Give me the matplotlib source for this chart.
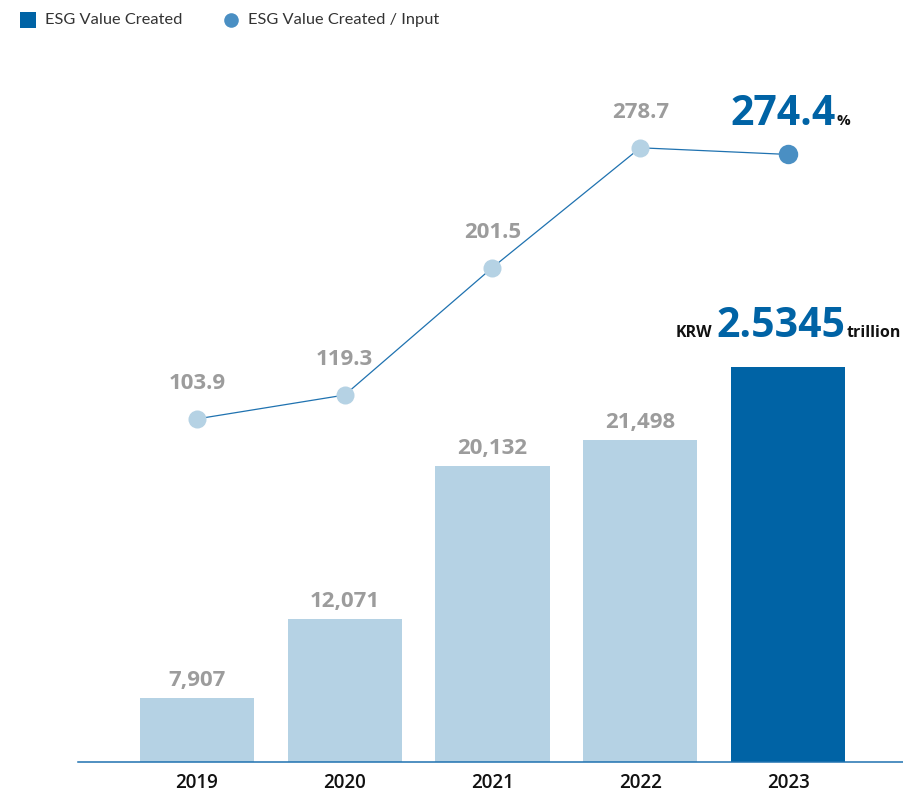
import matplotlib
matplotlib.use("Agg")
import matplotlib.pyplot as plt
from matplotlib.lines import Line2D
from matplotlib.patches import Rectangle

# ESG value created (KRW 100 million) and value created / input (%)
years = ["2019", "2020", "2021", "2022", "2023"]
value_created = [7907, 12071, 20132, 21498, 25345]
value_ratio = [103.9, 119.3, 201.5, 278.7, 274.4]

LIGHT = "#b5d2e4"
DARK = "#0063a5"
LINE = "#1f72b0"
MID = "#4a8fc3"
GRAY = "#9c9c9c"
BLACK = "#111111"

plt.rcParams['font.family'] = ['Open Sans', 'DejaVu Sans']

W, H = 904, 795
fig = plt.figure(figsize=(W / 100, H / 100), dpi=100)
left, right, bottom, top = 78, 904, 762, 80
ax = fig.add_axes([left / W, (H - bottom) / H, (right - left) / W, (bottom - top) / H])
ax2 = ax.twinx()

x = list(range(len(years)))
colors = [LIGHT] * (len(years) - 1) + [DARK]
ax.bar(x, value_created, width=0.772, color=colors, zorder=1)
ax.set_xlim(-0.805, 4.785)
ax.set_ylim(4555, 40462)
ax2.set_ylim(-117.3, 322.4)

# bar value labels (latest year gets a headline label instead)
for i, v in enumerate(value_created[:-1]):
    ax.annotate(f"{v:,}", xy=(i, v), xytext=(0, 8.6), textcoords="offset points",
                ha="center", va="baseline", fontsize=16, fontweight="bold", color=GRAY)

last = len(years) - 1
ax.annotate(f"{value_created[-1] / 10000:.4f}", xy=(last, value_created[-1]),
            xytext=(-5, 22), textcoords="offset points", ha="center", va="baseline",
            fontsize=29.5, fontweight="bold", color=DARK)
ax.annotate("KRW", xy=(last, value_created[-1]), xytext=(-54.5, 22), textcoords="offset points",
            ha="right", va="baseline", fontsize=11.5, fontweight="bold", color=BLACK)
ax.annotate("trillion", xy=(last, value_created[-1]), xytext=(42, 22), textcoords="offset points",
            ha="left", va="baseline", fontsize=11.5, fontweight="bold", color=BLACK)

# ratio line
ax2.plot(x, value_ratio, color=LINE, lw=0.9, zorder=2)
ax2.plot(x[:-1], value_ratio[:-1], ls="none", marker="o", ms=13, mfc=LIGHT, mec="none", zorder=3)
ax2.plot(x[-1:], value_ratio[-1:], ls="none", marker="o", ms=14, mfc=MID, mec="none", zorder=3)

for i, v in enumerate(value_ratio[:-1]):
    ax2.annotate(f"{v:.1f}", xy=(i, v), xytext=(0, 21.6), textcoords="offset points",
                 ha="center", va="baseline", fontsize=16, fontweight="bold", color=GRAY)
ax2.annotate(f"{value_ratio[-1]:.1f}", xy=(last, value_ratio[-1]), xytext=(-3.6, 21),
             textcoords="offset points", ha="center", va="baseline",
             fontsize=29.5, fontweight="bold", color=DARK)
ax2.annotate("%", xy=(last, value_ratio[-1]), xytext=(35, 21), textcoords="offset points",
             ha="left", va="baseline", fontsize=11, fontweight="bold", color=BLACK)

# axes styling
ax.set_xticks(x)
ax.set_xticklabels(years, fontsize=13.5, fontweight="semibold", color=BLACK)
ax.tick_params(axis="x", length=0, pad=8)
ax.set_yticks([])
ax2.set_yticks([])
for a in (ax, ax2):
    for s in ("top", "left", "right"):
        a.spines[s].set_visible(False)
ax2.spines["bottom"].set_visible(False)
ax.spines["bottom"].set_color(LINE)
ax.spines["bottom"].set_linewidth(1.1)

# legend
fig.add_artist(Rectangle((20 / W, 1 - 28 / H), 16 / W, 16 / H, transform=fig.transFigure,
                         color=DARK, lw=0))
fig.text(45 / W, 1 - 20 / H, "ESG Value Created", family=["Lato", "DejaVu Sans"],
         fontsize=11.8, color="#333333", va="center", ha="left")
fig.add_artist(Line2D([231 / W], [1 - 20 / H], transform=fig.transFigure, ls="none",
                      marker="o", ms=10.5, mfc=MID, mec="none"))
fig.text(248 / W, 1 - 20 / H, "ESG Value Created / Input", family=["Lato", "DejaVu Sans"],
         fontsize=11.8, color="#333333", va="center", ha="left")

fig.savefig("out.png", dpi=100)
